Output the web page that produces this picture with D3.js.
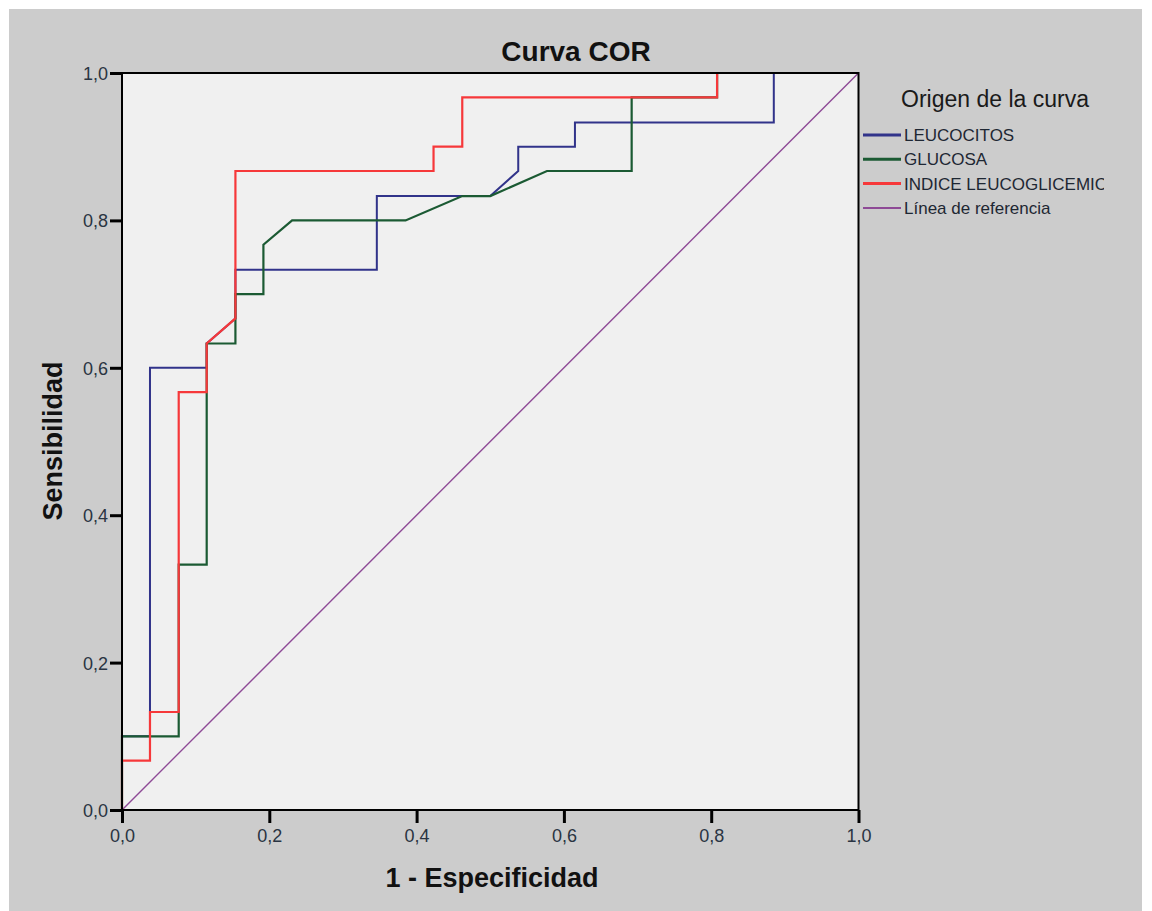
<!DOCTYPE html>
<html>
<head>
<meta charset="utf-8">
<script src="https://cdn.jsdelivr.net/npm/d3@7"></script>
<style>
  body { margin: 0; background: #fff; }
  text { font-family: Arial, "Liberation Sans", sans-serif; }
</style>
</head>
<body>
<script>
// series (1 - especificidad / sensibilidad)
var leucoX = [0, 0, 0.038, 0.038, 0.115, 0.115, 0.154, 0.154, 0.346, 0.346, 0.5, 0.538, 0.538, 0.615, 0.615, 0.885, 0.885, 1]
var leucoY = [0, 0.1, 0.1, 0.6, 0.6, 0.633, 0.667, 0.733, 0.733, 0.833, 0.833, 0.867, 0.9, 0.9, 0.933, 0.933, 1, 1]
var glucX = [0, 0, 0.077, 0.077, 0.115, 0.115, 0.154, 0.154, 0.192, 0.192, 0.231, 0.385, 0.462, 0.5, 0.577, 0.692, 0.692, 0.808, 0.808, 1]
var glucY = [0, 0.1, 0.1, 0.333, 0.333, 0.633, 0.633, 0.7, 0.7, 0.767, 0.8, 0.8, 0.833, 0.833, 0.867, 0.867, 0.967, 0.967, 1, 1]
var indiceX = [0, 0, 0.038, 0.038, 0.077, 0.077, 0.115, 0.115, 0.154, 0.154, 0.423, 0.423, 0.462, 0.462, 0.808, 0.808, 1]
var indiceY = [0, 0.067, 0.067, 0.133, 0.133, 0.567, 0.567, 0.633, 0.667, 0.867, 0.867, 0.9, 0.9, 0.967, 0.967, 1, 1]
var refX = [0, 1]
var refY = [0, 1]

var seriesNames = ["LEUCOCITOS", "GLUCOSA", "INDICE LEUCOGLICEMICO", "Línea de referencia"]
var seriesColors = ["#31338a", "#1b5a33", "#f6383a", "#8e4a96"]
var tickVals = [0, 0.2, 0.4, 0.6, 0.8, 1.0]

var svg = d3.select("body").append("svg")
  .attr("width", 1152)
  .attr("height", 911)

svg.append("rect")
  .attr("x", 9).attr("y", 9)
  .attr("width", 1133).attr("height", 902)
  .attr("fill", "#cccccc")

var x = d3.scaleLinear().domain([0, 1]).range([122, 858.5])
var y = d3.scaleLinear().domain([0, 1]).range([810, 73])

var fmt = function(d) { return d3.format(".1f")(d).replace(".", ",") }

svg.append("rect")
  .attr("x", x(0)).attr("y", y(1))
  .attr("width", x(1) - x(0)).attr("height", y(0) - y(1))
  .attr("fill", "#f0f0f0")

var line = d3.line().x(d => x(d[0])).y(d => y(d[1]))

// reference first, then curves (red ends on top)
var allSeries = [
  { xs: refX, ys: refY, c: seriesColors[3], w: 1.4 },
  { xs: leucoX, ys: leucoY, c: seriesColors[0], w: 2 },
  { xs: glucX, ys: glucY, c: seriesColors[1], w: 2.2 },
  { xs: indiceX, ys: indiceY, c: seriesColors[2], w: 2.2 }
]
allSeries.forEach(function(s) {
  svg.append("path")
    .datum(d3.zip(s.xs, s.ys))
    .attr("d", line)
    .attr("fill", "none")
    .attr("stroke", s.c)
    .attr("stroke-width", s.w)
    .attr("stroke-linejoin", "miter")
})

// frame
svg.append("rect")
  .attr("x", x(0)).attr("y", y(1))
  .attr("width", x(1) - x(0)).attr("height", y(0) - y(1))
  .attr("fill", "none")
  .attr("stroke", "#000")
  .attr("stroke-width", 2)

var xAxis = svg.append("g")
  .attr("transform", "translate(0," + y(0) + ")")
  .call(d3.axisBottom(x).tickValues(tickVals).tickFormat(fmt).tickSize(13).tickPadding(6))
var yAxis = svg.append("g")
  .attr("transform", "translate(" + x(0) + ",0)")
  .call(d3.axisLeft(y).tickValues(tickVals).tickFormat(fmt).tickSize(12).tickPadding(2))

;[xAxis, yAxis].forEach(function(g) {
  g.select(".domain").remove()
  g.selectAll(".tick line").attr("stroke", "#000").attr("stroke-width", 3)
  g.selectAll(".tick text")
    .attr("fill", "#2a3442")
    .style("font-size", "18px")
    .style("font-family", "Arial, 'Liberation Sans', sans-serif")
})
yAxis.selectAll(".tick text").attr("dy", "0.36em")

// titles
svg.append("text")
  .attr("x", 576).attr("y", 61)
  .attr("text-anchor", "middle")
  .style("font-size", "28px").style("font-weight", "bold")
  .attr("fill", "#111")
  .text("Curva COR")

svg.append("text")
  .attr("x", 492).attr("y", 887)
  .attr("text-anchor", "middle")
  .style("font-size", "27px").style("font-weight", "bold")
  .attr("fill", "#111")
  .text("1 - Especificidad")

svg.append("text")
  .attr("transform", "translate(62,441) rotate(-90)")
  .attr("text-anchor", "middle")
  .style("font-size", "27px").style("font-weight", "bold")
  .attr("fill", "#111")
  .text("Sensibilidad")

// legend
svg.append("clipPath").attr("id", "legclip")
  .append("rect").attr("x", 860).attr("y", 80).attr("width", 244).attr("height", 160)

var legend = svg.append("g").attr("clip-path", "url(#legclip)")
legend.append("text")
  .attr("x", 901).attr("y", 107)
  .style("font-size", "23px")
  .attr("fill", "#1a1a1a")
  .text("Origen de la curva")

var item = legend.selectAll(".item")
  .data(seriesNames)
  .enter().append("g")
  .attr("class", "item")
  .attr("transform", (d, i) => "translate(0," + (135 + i * 24.3) + ")")
item.append("line")
  .attr("x1", 863).attr("x2", 901)
  .attr("stroke", (d, i) => seriesColors[i])
  .attr("stroke-width", (d, i) => i == 3 ? 2 : 3)
item.append("text")
  .attr("x", 904).attr("dy", "0.36em")
  .style("font-size", "17px")
  .attr("fill", "#1e2733")
  .text(d => d)
</script>
</body>
</html>
